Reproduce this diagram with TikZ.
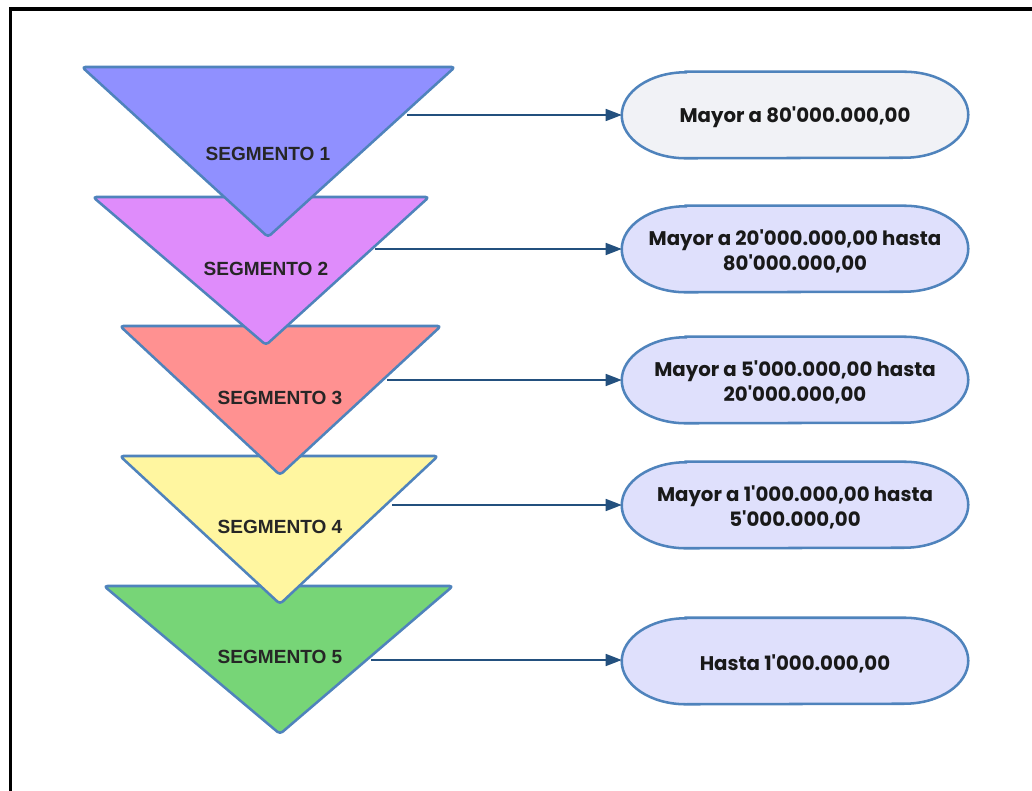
\documentclass[tikz,border=0pt]{standalone}
\usepackage{fontspec}
\setmainfont{Liberation Sans}
\newfontfamily\rangefont{Poppins}
\usetikzlibrary{arrows.meta,backgrounds}

\definecolor{edgeblue}{HTML}{4F83BC}
\definecolor{linkblue}{HTML}{23507E}
\definecolor{segA}{HTML}{9090FF}
\definecolor{segB}{HTML}{DF8CFB}
\definecolor{segC}{HTML}{FF9191}
\definecolor{segD}{HTML}{FFF6A0}
\definecolor{segE}{HTML}{77D577}
\definecolor{topfill}{HTML}{F1F2F6}
\definecolor{rangefill}{HTML}{DFE0FC}

\tikzset{
  segshape/.style={draw=edgeblue, line width=1.9pt, rounded corners=2.5pt, line join=round},
  seglabel/.style={font=\bfseries\fontsize{14.3}{17}\selectfont, text=black!85, inner sep=0pt},
  rangebox/.style={minimum width=259.5pt, minimum height=64.5pt,
    align=center, inner sep=0pt, text=black!90,
    font=\rangefont\bfseries\fontsize{14.8}{18.5}\selectfont},
  rangeedge/.style={draw=edgeblue, line width=1.9pt},
  link/.style={draw=linkblue, line width=1.1pt, -{Triangle[length=12pt,width=9pt]}}
}

% oval outline round a range node: straight top and bottom, elliptic ends
\newcommand\rangeoutline[2]{%
  \path[rangeedge, fill=#2]
    ([xshift=48pt]#1.north west) -- ([xshift=-48pt]#1.north east)
    arc[start angle=90, end angle=-90, x radius=48pt, y radius=32.25pt]
    -- ([xshift=48pt]#1.south west)
    arc[start angle=270, end angle=90, x radius=48pt, y radius=32.25pt]
    -- cycle;}

\begin{document}
\begin{tikzpicture}[x=0.75pt,y=-0.75pt]
  \useasboundingbox (0,0) rectangle (1032,791);

  % segment triangles, drawn bottom-up so each apex lies over the next one
  \draw[segshape, fill=segE] (104,586) -- (453,586) -- (280,734) -- cycle;
  \draw[segshape, fill=segD] (120,456) -- (438,456) -- (280,604) -- cycle;
  \draw[segshape, fill=segC] (120,326) -- (441,326) -- (280,475) -- cycle;
  \draw[segshape, fill=segB] (93,197) -- (429,197) -- (266,345) -- cycle;
  \draw[segshape, fill=segA] (82,67) -- (455,67) -- (268,237) -- cycle;

  \node[seglabel] (s1) at (268,154) {SEGMENTO 1};
  \node[seglabel] (s2) at (266,269) {SEGMENTO 2};
  \node[seglabel] (s3) at (280,398) {SEGMENTO 3};
  \node[seglabel] (s4) at (280,527) {SEGMENTO 4};
  \node[seglabel] (s5) at (280,657) {SEGMENTO 5};

  % connector start points on the right edge of each triangle
  \coordinate (e1) at (407,115);
  \coordinate (e2) at (375,249);
  \coordinate (e3) at (387,380);
  \coordinate (e4) at (392,505);
  \coordinate (e5) at (371,660);

  % value ranges
  \node[rangebox] (r1) at (795,115) {};
  \node[rangebox] (r2) at (795,249) {};
  \node[rangebox] (r3) at (795,380) {};
  \node[rangebox] (r4) at (795,505) {};
  \node[rangebox] (r5) at (795,661) {};
  \node[rangebox, minimum height=0pt] (t1) at ([yshift=-2pt]r1.center) {Mayor a 80'000.000,00};
  \node[rangebox, minimum height=0pt] (t2) at ([yshift=-2pt]r2.center) {Mayor a 20'000.000,00 hasta\\80'000.000,00};
  \node[rangebox, minimum height=0pt] (t3) at ([yshift=-2pt]r3.center) {Mayor a 5'000.000,00 hasta\\20'000.000,00};
  \node[rangebox, minimum height=0pt] (t4) at ([yshift=-2pt]r4.center) {Mayor a 1'000.000,00 hasta\\5'000.000,00};
  \node[rangebox, minimum height=0pt] (t5) at ([yshift=-2pt]r5.center) {Hasta 1'000.000,00};

  \draw[link] (e1) -- (e1 -| r1.west);
  \draw[link] (e2) -- (e2 -| r2.west);
  \draw[link] (e3) -- (e3 -| r3.west);
  \draw[link] (e4) -- (e4 -| r4.west);
  \draw[link] (e5) -- (e5 -| r5.west);

  \begin{scope}[on background layer]
    \fill[white] (0,0) rectangle (1032,791);
    % outer frame, running past the right and bottom edges
    \begin{scope}
      \clip (0,0) rectangle (1032,791);
      \draw[black, line width=2.5pt] (10.5,9) rectangle (1045,805);
    \end{scope}
    \rangeoutline{r1}{topfill}
    \rangeoutline{r2}{rangefill}
    \rangeoutline{r3}{rangefill}
    \rangeoutline{r4}{rangefill}
    \rangeoutline{r5}{rangefill}
  \end{scope}
\end{tikzpicture}
\end{document}
